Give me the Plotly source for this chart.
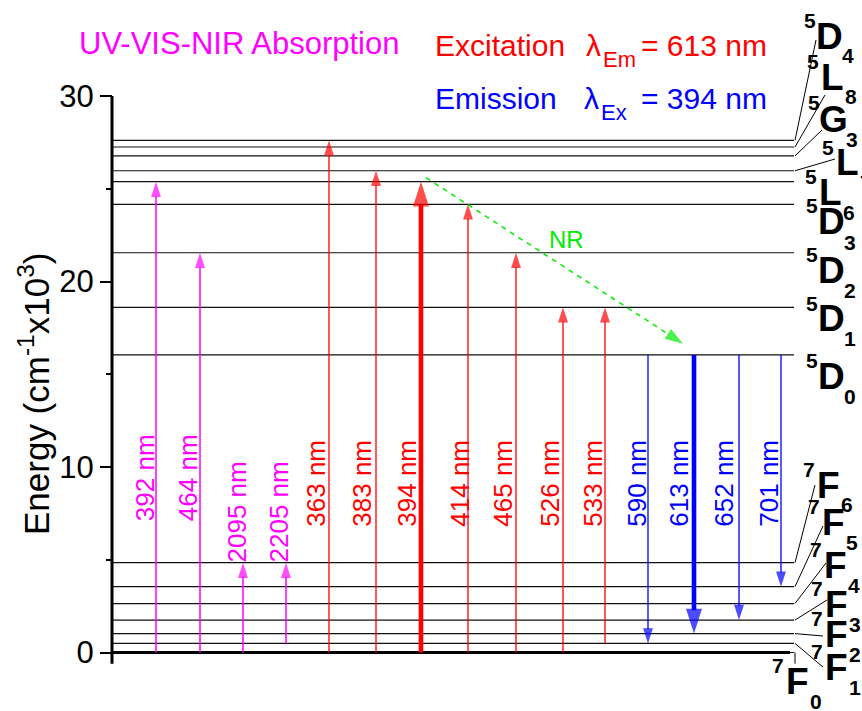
import plotly.graph_objects as go

W, H = 862, 711

# ---------------- data (energies in 10^3 cm^-1) ----------------
upper_levels = ["5D4", "5L8", "5G3", "5L7", "5L6", "5D3", "5D2", "5D1", "5D0"]
upper_energy = [27.61, 27.25, 26.77, 25.97, 25.38, 24.16, 21.55, 18.61, 16.04]
lower_levels = ["7F6", "7F5", "7F4", "7F3", "7F2", "7F1", "7F0"]
lower_energy = [4.84, 3.55, 2.64, 1.75, 1.02, 0.49, 0.0]

abs_wl = ["392 nm", "464 nm", "2095 nm", "2205 nm"]
abs_from = ["7F0", "7F0", "7F0", "7F1"]
abs_to = ["5L6", "5D2", "7F6", "7F6"]

exc_wl = ["363 nm", "383 nm", "394 nm", "414 nm", "465 nm", "526 nm", "533 nm"]
exc_from = ["7F0", "7F0", "7F0", "7F0", "7F0", "7F0", "7F1"]
exc_to = ["5D4", "5L7", "5L6", "5D3", "5D2", "5D1", "5D1"]

em_wl = ["590 nm", "613 nm", "652 nm", "701 nm"]
em_from = ["5D0", "5D0", "5D0", "5D0"]
em_to = ["7F1", "7F2", "7F3", "7F5"]

strong = ["394 nm", "613 nm"]

nr_start, nr_end = 25.6, 16.65

y_ticks = [0, 10, 20, 30]
y_minor = [5, 15, 25]

# ---------------- layout positions (pixels / slots) ----------------
AXIS_X = 112
LINE_END = 794
slot_x = [156, 200, 243, 286, 329, 376, 421, 468, 516, 563, 605, 648, 694, 739, 781]
label_dx = [-11, -12, -6, -7, -13, -14, -14, -8, -13, -13, -12, -11, -15, -15, -12]
label_y = [9.4, 9.4, 7.55, 7.55, 9.1, 9.1, 9.1, 9.1, 9.1, 9.1, 9.1, 9.1, 9.1, 9.1, 9.1]
nr_x = (426, 683)

# term label letter centres (px) and leader end points (px)
term_pos = {
    "5D4": (829, 36), "5L8": (832, 77), "5G3": (833, 119), "5L7": (847, 163),
    "5L6": (830, 192), "5D3": (831, 222), "5D2": (831, 270), "5D1": (831, 319),
    "5D0": (831, 376), "7F6": (828, 485), "7F5": (833, 522), "7F4": (835, 565),
    "7F3": (836, 604), "7F2": (836, 634), "7F1": (836, 667), "7F0": (797, 681),
}
leader_end = {
    "5D4": (816, 40), "5L8": (825, 95), "5G3": (822, 130), "5L7": (835, 159),
    "7F6": (815, 485), "7F5": (823, 526), "7F4": (826, 563), "7F3": (827, 600),
    "7F2": (823, 636), "7F1": (823, 667),
}

FONT = "Arial, Liberation Sans, sans-serif"
MAGENTA, RED, BLUE, GREEN = "#ff00ff", "#ff0000", "#0000ff", "#00ee00"

# y range chosen so that 0 sits at pixel 652.5 and 30 at pixel 96
PX0, PXU = 652.5, 18.55
Y_RANGE = [(PX0 - H) / PXU, PX0 / PXU]


def ev(py):
    return (PX0 - py) / PXU


levels = dict(zip(upper_levels + lower_levels, upper_energy + lower_energy))

fig = go.Figure()

# energy level lines
lx, ly = [], []
for name, e in levels.items():
    lx += [AXIS_X, LINE_END, None]
    ly += [e, e, None]
fig.add_trace(go.Scatter(x=lx, y=ly, mode="lines", line=dict(color="#111111", width=1.2),
                         hoverinfo="skip", showlegend=False))

# leader lines
ldx, ldy = [], []
for name, (ex, ey_) in leader_end.items():
    ldx += [LINE_END + 1, ex, None]
    ldy += [levels[name], ev(ey_), None]
# bracket below 7F0
ldx += [795, 795, None]
ldy += [0, -0.6, None]
fig.add_trace(go.Scatter(x=ldx, y=ldy, mode="lines", line=dict(color="black", width=1),
                         hoverinfo="skip", showlegend=False))

# axes lines
fig.add_trace(go.Scatter(x=[AXIS_X, AXIS_X], y=[-0.6, 30], mode="lines",
                         line=dict(color="black", width=3), hoverinfo="skip", showlegend=False))
fig.add_trace(go.Scatter(x=[AXIS_X, 790], y=[0, 0], mode="lines",
                         line=dict(color="black", width=3), hoverinfo="skip", showlegend=False))

# transitions
groups = [(abs_wl, abs_from, abs_to, MAGENTA, 1.5),
          (exc_wl, exc_from, exc_to, RED, 1.3),
          (em_wl, em_from, em_to, BLUE, 1.3)]
i = 0
annotations = []
for wls, frs, tos, col, lw in groups:
    for wl, f, t in zip(wls, frs, tos):
        x = slot_x[i]
        thick = wl in strong
        head = 26 if thick else 16
        fig.add_trace(go.Scatter(
            x=[x, x], y=[levels[f], levels[t]], mode="lines+markers",
            line=dict(color=col, width=4.6 if thick else lw),
            marker=dict(symbol="arrow", angleref="previous", size=[0, head], color=col,
                        line=dict(width=0)),
            hoverinfo="skip", showlegend=False))
        annotations.append(dict(
            x=x, y=label_y[i], xref="x", yref="y", text=wl, textangle=-90,
            showarrow=False, xanchor="center", yanchor="middle", xshift=label_dx[i],
            font=dict(family=FONT, size=26, color=col)))
        i += 1

# non-radiative relaxation
fig.add_trace(go.Scatter(
    x=list(nr_x), y=[nr_start, nr_end], mode="lines+markers",
    line=dict(color=GREEN, width=1.5, dash="5px,5px"),
    marker=dict(symbol="arrow", angleref="previous", size=[0, 19], color=GREEN, line=dict(width=0)),
    hoverinfo="skip", showlegend=False))
annotations.append(dict(x=566, y=ev(239), xref="x", yref="y", text="NR", showarrow=False,
                        font=dict(family=FONT, size=24, color=GREEN)))


def pp(x, y):
    return dict(x=x / W, y=1 - y / H, xref="paper", yref="paper")


# term symbol labels
for name, (cx, cy) in term_pos.items():
    sup, letter, sub = name[0], name[1], name[2]
    annotations.append(dict(**pp(cx, cy), text="<b>%s</b>" % letter, showarrow=False,
                            xanchor="center", yanchor="middle",
                            font=dict(family=FONT, size=37, color="black")))
    annotations.append(dict(**pp(cx - 19, cy - 16), text="<b>%s</b>" % sup, showarrow=False,
                            xanchor="center", yanchor="middle",
                            font=dict(family=FONT, size=21, color="black")))
    annotations.append(dict(**pp(cx + 19, cy + 20), text="<b>%s</b>" % sub, showarrow=False,
                            xanchor="center", yanchor="middle",
                            font=dict(family=FONT, size=21, color="black")))

# header texts
annotations.append(dict(**pp(77, 43), text="UV-VIS-NIR Absorption", showarrow=False,
                        xanchor="left", yanchor="middle", font=dict(family=FONT, size=31, color=MAGENTA)))
annotations.append(dict(**pp(433, 45), text="Excitation", showarrow=False,
                        xanchor="left", yanchor="middle", font=dict(family=FONT, size=30, color=RED)))
annotations.append(dict(**pp(584, 45), text="λ", showarrow=False,
                        xanchor="left", yanchor="middle", font=dict(family=FONT, size=30, color=RED)))
annotations.append(dict(**pp(601, 59), text="Em", showarrow=False,
                        xanchor="left", yanchor="middle", font=dict(family=FONT, size=22, color=RED)))
annotations.append(dict(**pp(769, 45), text="= 613 nm", showarrow=False,
                        xanchor="right", yanchor="middle", font=dict(family=FONT, size=30, color=RED)))
annotations.append(dict(**pp(433, 99), text="Emission", showarrow=False,
                        xanchor="left", yanchor="middle", font=dict(family=FONT, size=30, color=BLUE)))
annotations.append(dict(**pp(582, 99), text="λ", showarrow=False,
                        xanchor="left", yanchor="middle", font=dict(family=FONT, size=30, color=BLUE)))
annotations.append(dict(**pp(599, 113), text="Ex", showarrow=False,
                        xanchor="left", yanchor="middle", font=dict(family=FONT, size=22, color=BLUE)))
annotations.append(dict(**pp(769, 99), text="= 394 nm", showarrow=False,
                        xanchor="right", yanchor="middle", font=dict(family=FONT, size=30, color=BLUE)))

# y-axis title
annotations.append(dict(**pp(34, 394), text="Energy (cm<sup>-1</sup>x10<sup>3</sup>)", textangle=-90,
                        showarrow=False, xanchor="center", yanchor="middle",
                        font=dict(family=FONT, size=35, color="black")))

fig.update_layout(
    width=W, height=H, margin=dict(l=0, r=0, t=0, b=0, pad=0),
    paper_bgcolor="white", plot_bgcolor="white",
    showlegend=False, annotations=annotations,
    xaxis=dict(range=[0, W], visible=False, fixedrange=True),
    yaxis=dict(range=Y_RANGE, anchor="free", position=AXIS_X / W, side="left",
               showline=False, showgrid=False, zeroline=False,
               tickmode="array", tickvals=y_ticks, ticktext=[str(v) for v in y_ticks],
               ticks="outside", ticklen=12, tickwidth=2, tickcolor="black",
               tickfont=dict(family=FONT, size=31, color="black"),
               minor=dict(tickmode="array", tickvals=y_minor, ticks="outside", ticklen=6,
                          tickwidth=2, tickcolor="black", showgrid=False),
               fixedrange=True, automargin=False),
)

fig.write_html("out.html")
